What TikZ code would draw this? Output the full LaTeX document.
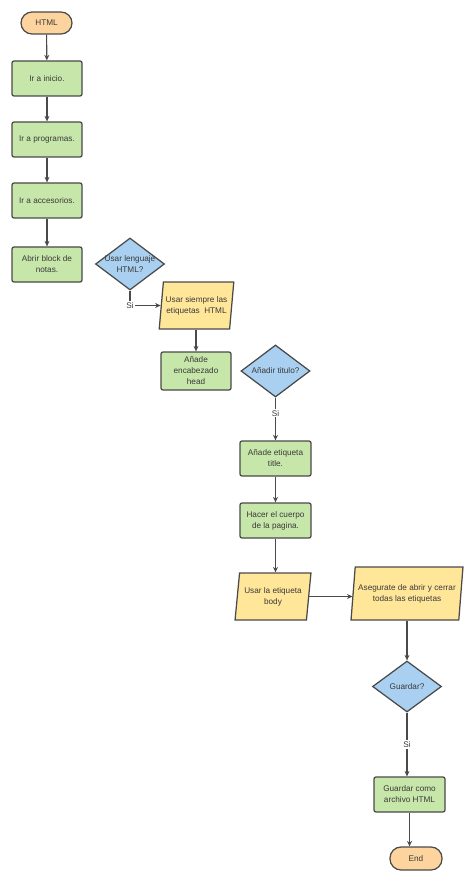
\documentclass[tikz,border=0pt]{standalone}
\usepackage{fontspec}
\setmainfont{Liberation Sans}
\usetikzlibrary{shapes.geometric,arrows.meta}
\definecolor{gfill}{HTML}{C7E6A9}
\definecolor{ofill}{HTML}{FDD39E}
\definecolor{bfill}{HTML}{A9D0F0}
\definecolor{yfill}{HTML}{FFE699}
\definecolor{edge}{HTML}{4A4A4A}
\definecolor{txt}{HTML}{3A3A3A}
\tikzset{
  txtfont/.style={font=\fontsize{8.2}{11}\selectfont},
  base/.style={draw=edge, line width=1.25pt, text=txt, align=center, inner sep=1pt, txtfont},
  procbox/.style={base, fill=gfill, rectangle, rounded corners=2pt, minimum width=70pt, minimum height=35pt},
  termbox/.style={base, fill=ofill, rectangle, rounded corners=11pt, minimum width=51pt, minimum height=22pt},
  decbox/.style={base, fill=bfill, diamond, minimum width=69pt, minimum height=52pt, inner sep=0pt},
  iobox/.style={base, fill=yfill, trapezium, trapezium left angle=79, trapezium right angle=101,
    trapezium stretches=true, minimum height=47pt},
  conn/.style={draw=edge, line width=1.1pt, -{Stealth[length=5.5pt,width=5pt]}},
  silab/.style={fill=white, inner sep=1pt, text=txt, txtfont},
  dtext/.style={text=txt, align=center, txtfont}
}
\begin{document}
\begin{tikzpicture}[x=1pt,y=-1pt]
\useasboundingbox[fill=white] (0,0) rectangle (474,882);
\node[termbox] (html) at (46.5,23) {HTML};
\node[procbox] (n1) at (47,78.5) {Ir a inicio.};
\node[procbox] (n2) at (47,139.5) {Ir a programas.};
\node[procbox] (n3) at (47,200.5) {Ir a accesorios.};
\node[procbox] (n4) at (47,264.5) {Abrir block de\\notas.};
\node[decbox, label={[dtext]center:Usar lenguaje\\HTML?}] (d1) at (130,264) {};
\node[iobox, minimum width=75pt] (p1) at (196.5,305.5) {Usar siempre las\\etiquetas\ \ HTML};
\node[procbox, minimum height=38pt] (n5) at (196,371) {Añade\\encabezado\\head};
\node[decbox, label={[dtext]center:Añadir titulo?}] (d2) at (275.5,371) {};
\node[procbox, minimum width=71pt] (n6) at (275.5,458.5) {Añade etiqueta\\title.};
\node[procbox, minimum width=71pt] (n7) at (275.5,520.5) {Hacer el cuerpo\\de la pagina.};
\node[iobox, minimum width=76pt] (p2) at (273,596.5) {Usar la etiqueta\\body};
\node[iobox, minimum width=112pt, minimum height=53pt] (p3) at (407,593.5) {Asegurate de abrir y cerrar\\todas las etiquetas};
\node[decbox, minimum height=51pt, label={[dtext]center:Guardar?}] (d3) at (407,686.5) {};
\node[procbox, minimum width=71pt] (n8) at (409.5,794.5) {Guardar como\\archivo HTML};
\node[termbox, minimum width=52pt, minimum height=23pt] (end) at (416,858.5) {End};

\draw[conn] (html) -- (n1);
\draw[conn] (n1) -- (n2);
\draw[conn] (n2) -- (n3);
\draw[conn] (n3) -- (n4);
\draw[conn] (d1.south) |- node[silab, pos=0.5] {Si} (p1);
\draw[conn] (p1.south -| n5.north) -- (n5.north);
\draw[conn] (d2.south) -- node[silab, pos=0.37] {Si} (n6.north);
\draw[conn] (n6) -- (n7);
\draw[conn] (n7.south) -- (n7.south |- p2.north);
\draw[conn] (p2.east) -- (p2.east -| p3.west);
\draw[conn] (p3.south -| d3.north) -- (d3.north);
\draw[conn] (d3.south) -- node[silab, pos=0.5] {Si} (d3.south |- n8.north);
\draw[conn] (n8.south) -- (n8.south |- end.north);
\end{tikzpicture}
\end{document}
